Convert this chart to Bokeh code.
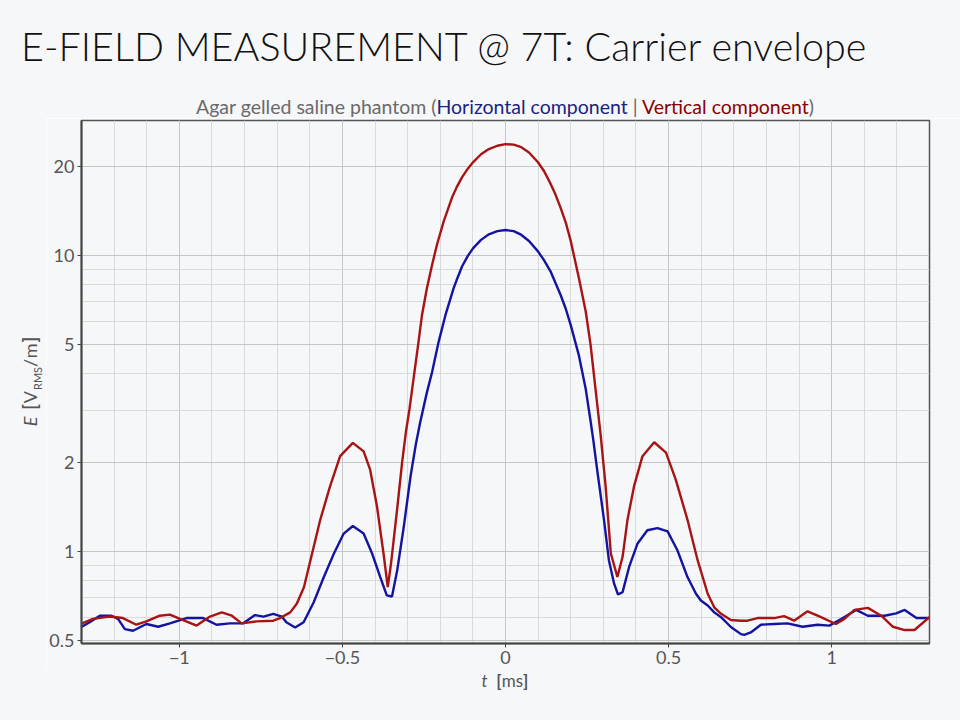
from bokeh.plotting import figure
from bokeh.models import Range1d, FixedTicker, CustomJSTickFormatter, Div
from bokeh.layouts import column, row
from bokeh.embed import file_html
from bokeh.resources import INLINE

# ---- data ----
t_horizontal = [-1.303, -1.275, -1.244, -1.208, -1.188, -1.167, -1.142, -1.101, -1.065, -1.029,
                -0.978, -0.927, -0.886, -0.845, -0.804, -0.768, -0.742, -0.712, -0.686, -0.672,
                -0.645, -0.619, -0.588, -0.557, -0.526, -0.496, -0.468, -0.435, -0.409, -0.384,
                -0.364, -0.348, -0.332, -0.312, -0.291, -0.275, -0.262, -0.241, -0.225, -0.205,
                -0.184, -0.159, -0.150, -0.133, -0.115, -0.099, -0.075, -0.051, -0.025, 0.0,
                0.025, 0.046, 0.072, 0.099, 0.118, 0.138, 0.153, 0.169, 0.185,
                0.200, 0.225, 0.246, 0.261, 0.269, 0.281, 0.302, 0.317, 0.333, 0.345,
                0.359, 0.379, 0.405, 0.435, 0.466, 0.497, 0.527, 0.558, 0.584, 0.599,
                0.620, 0.640, 0.661, 0.691, 0.722, 0.732, 0.752, 0.783, 0.824, 0.865,
                0.911, 0.957, 0.993, 1.029, 1.075, 1.111, 1.162, 1.198, 1.224, 1.260, 1.300]
e_horizontal = [0.554, 0.577, 0.607, 0.607, 0.592, 0.547, 0.540, 0.569, 0.557, 0.572,
                0.596, 0.596, 0.566, 0.572, 0.572, 0.610, 0.603, 0.616, 0.603, 0.577,
                0.554, 0.577, 0.674, 0.820, 0.985, 1.15, 1.22, 1.15, 0.985, 0.82,
                0.711, 0.705, 0.864, 1.21, 1.80, 2.30, 2.72, 3.45, 4.04, 5.11,
                6.30, 7.76, 8.25, 9.2, 10.0, 10.6, 11.3, 11.8, 12.1, 12.2,
                12.1, 11.8, 11.2, 10.35, 9.65, 8.85, 8.1, 7.36, 6.6,
                5.82, 4.60, 3.54, 2.75, 2.39, 1.89, 1.28, 0.935, 0.779, 0.716,
                0.729, 0.887, 1.065, 1.18, 1.20, 1.17, 1.01, 0.82, 0.72, 0.683,
                0.657, 0.623, 0.60, 0.556, 0.526, 0.523, 0.533, 0.566, 0.569, 0.572,
                0.557, 0.566, 0.562, 0.592, 0.635, 0.607, 0.607, 0.618, 0.635, 0.596, 0.596]

t_vertical = [-1.303, -1.265, -1.214, -1.173, -1.132, -1.101, -1.060, -1.029, -0.998, -0.947,
              -0.906, -0.870, -0.839, -0.809, -0.763, -0.712, -0.691, -0.660, -0.640, -0.618,
              -0.593, -0.568, -0.538, -0.507, -0.468, -0.435, -0.415, -0.394, -0.374, -0.361,
              -0.351, -0.332, -0.317, -0.305, -0.294, -0.282, -0.268, -0.256, -0.241, -0.225,
              -0.210, -0.189, -0.164, -0.150, -0.133, -0.115, -0.099, -0.075, -0.051, -0.025,
              0.0, 0.025, 0.046, 0.072, 0.099, 0.118, 0.138, 0.153,
              0.169, 0.185, 0.200, 0.225, 0.246, 0.261, 0.276, 0.292, 0.307, 0.323, 0.343,
              0.359, 0.374, 0.394, 0.420, 0.456, 0.492, 0.522, 0.558, 0.589, 0.620,
              0.640, 0.661, 0.691, 0.722, 0.742, 0.773, 0.824, 0.854, 0.885, 0.926,
              0.957, 1.013, 1.039, 1.070, 1.111, 1.152, 1.188, 1.224, 1.254, 1.300]
e_vertical = [0.569, 0.592, 0.603, 0.596, 0.566, 0.581, 0.607, 0.612, 0.592, 0.562,
              0.603, 0.623, 0.607, 0.572, 0.581, 0.584, 0.596, 0.623, 0.666, 0.758,
              0.985, 1.28, 1.66, 2.10, 2.33, 2.18, 1.89, 1.42, 0.985, 0.758,
              0.911, 1.40, 2.00, 2.55, 3.05, 3.83, 4.98, 6.30, 7.76, 9.31,
              10.9, 13.1, 15.7, 17.0, 18.4, 19.7, 20.7, 22.0, 22.9, 23.5,
              23.8, 23.7, 23.3, 22.3, 20.7, 19.3, 17.5, 16.1,
              14.5, 12.9, 11.2, 8.4, 6.47, 4.98, 3.54, 2.46, 1.66, 0.985, 0.82,
              0.96, 1.28, 1.66, 2.10, 2.34, 2.16, 1.75, 1.28, 0.935, 0.72,
              0.648, 0.616, 0.587, 0.584, 0.584, 0.596, 0.596, 0.605, 0.584, 0.628,
              0.607, 0.569, 0.592, 0.635, 0.645, 0.607, 0.557, 0.543, 0.543, 0.600]

x_major_ticks = [-1, -0.5, 0, 0.5, 1]
x_minor_ticks = [-1.3, -1.2, -1.1, -1.0, -0.9, -0.8, -0.7, -0.6, -0.5, -0.4, -0.3, -0.2, -0.1,
                 0.0, 0.1, 0.2, 0.3, 0.4, 0.5, 0.6, 0.7, 0.8, 0.9, 1.0, 1.1, 1.2, 1.3]
y_major_ticks = [0.5, 1, 2, 5, 10, 20]
y_minor_ticks = [0.6, 0.7, 0.8, 0.9, 3, 4, 6, 7, 8, 9]

title_text = "E-FIELD MEASUREMENT @ 7T: Carrier envelope"
subtitle_parts = ["Agar gelled saline phantom (", "Horizontal component", " | ",
                  "Vertical component", ")"]

BG = "#f6f7f9"
BLUE = "#1414a0"
RED = "#a81414"
GRAY = "#555555"
FONT = "Lato"

HEADER_H = 118
FIG_H = 552
YLAB_W = 46
XLAB_H = 720 - HEADER_H - FIG_H

div_styles = {"background-color": BG, "margin": "0", "padding": "0", "overflow": "hidden"}

# ---- header: title + coloured subtitle ----
header_html = (
    f'<div style="position:relative;width:960px;height:{HEADER_H}px;">'
    f'<div style="position:absolute;left:21px;top:23px;font-family:{FONT};font-size:39.5px;'
    f'font-weight:300;color:#111111;white-space:nowrap;line-height:46px;">{title_text}</div>'
    f'<div style="position:absolute;left:81px;width:848px;top:96px;text-align:center;'
    f'font-family:{FONT};font-size:19.5px;line-height:22px;color:#6a6a6a;white-space:nowrap;">'
    f'{subtitle_parts[0]}<span style="color:#1a237e">{subtitle_parts[1]}</span>'
    f'{subtitle_parts[2]}<span style="color:#8b0000">{subtitle_parts[3]}</span>'
    f'{subtitle_parts[4]}</div></div>'
)
header = Div(text=header_html, width=960, height=HEADER_H, styles=div_styles)

# ---- y-axis title: E [V_RMS/m] ----
ylab_html = (
    f'<div style="position:relative;width:{YLAB_W}px;height:{FIG_H}px;">'
    f'<div style="position:absolute;left:33.5px;top:{381 - HEADER_H}px;'
    'transform:translate(-50%,-50%) rotate(-90deg);letter-spacing:1px;'
    f'white-space:nowrap;font-family:{FONT};font-size:18px;line-height:22px;color:{GRAY};">'
    '<i>E</i>&nbsp;<b>[</b>V<sub style="font-size:11px;letter-spacing:0;">RMS</sub>/m<b>]</b></div></div>'
)
ylab = Div(text=ylab_html, width=YLAB_W, height=FIG_H, styles=div_styles)

# ---- x-axis title: t [ms] ----
xlab_html = (
    f'<div style="position:relative;width:960px;height:{XLAB_H}px;">'
    '<div style="position:absolute;left:81px;width:848px;top:0px;text-align:center;'
    f'white-space:nowrap;font-family:{FONT};font-size:17px;line-height:21px;color:{GRAY};">'
    '<i>t</i>&nbsp;&nbsp;<b>[</b>ms<b>]</b></div></div>'
)
xlab = Div(text=xlab_html, width=960, height=XLAB_H, styles=div_styles)

# ---- main plot ----
p = figure(width=960 - YLAB_W, height=FIG_H, y_axis_type="log",
           x_range=Range1d(-1.3, 1.3), y_range=Range1d(0.489, 28.6),
           output_backend="svg", toolbar_location=None,
           background_fill_color=BG, border_fill_color=BG)
p.min_border_left = 81 - YLAB_W
p.min_border_right = 31
p.min_border_top = 120 - HEADER_H
p.min_border_bottom = FIG_H - (643 - HEADER_H)
p.outline_line_color = "#555555"
p.outline_line_width = 1.5

p.line(t_horizontal, e_horizontal, line_color=BLUE, line_width=2.4)
p.line(t_vertical, e_vertical, line_color=RED, line_width=2.4)

p.xaxis.ticker = FixedTicker(ticks=x_major_ticks, minor_ticks=x_minor_ticks)
p.yaxis.ticker = FixedTicker(ticks=y_major_ticks, minor_ticks=y_minor_ticks)
p.xaxis.formatter = CustomJSTickFormatter(
    code="return tick < 0 ? '\u2212' + String(-tick) : String(tick);")
p.yaxis.formatter = CustomJSTickFormatter(code="return String(tick);")
for ax in (p.xaxis, p.yaxis):
    ax.axis_line_color = "#444444"
    ax.axis_line_width = 2
    ax.major_tick_line_color = "#444444"
    ax.major_tick_out = 4
    ax.major_tick_in = 0
    ax.minor_tick_out = 0
    ax.minor_tick_in = 0
    ax.major_label_text_font = FONT
    ax.major_label_text_font_size = "18px"
    ax.major_label_text_color = GRAY
    ax.major_label_standoff = 3

for g in (p.xgrid, p.ygrid):
    g.grid_line_color = "#c6c6c6"
    g.grid_line_width = 1
    g.minor_grid_line_color = "#dadada"
    g.minor_grid_line_width = 1

layout = column(header, row(ylab, p, spacing=0), xlab, spacing=0)
open("out.html", "w").write(file_html(layout, INLINE))
